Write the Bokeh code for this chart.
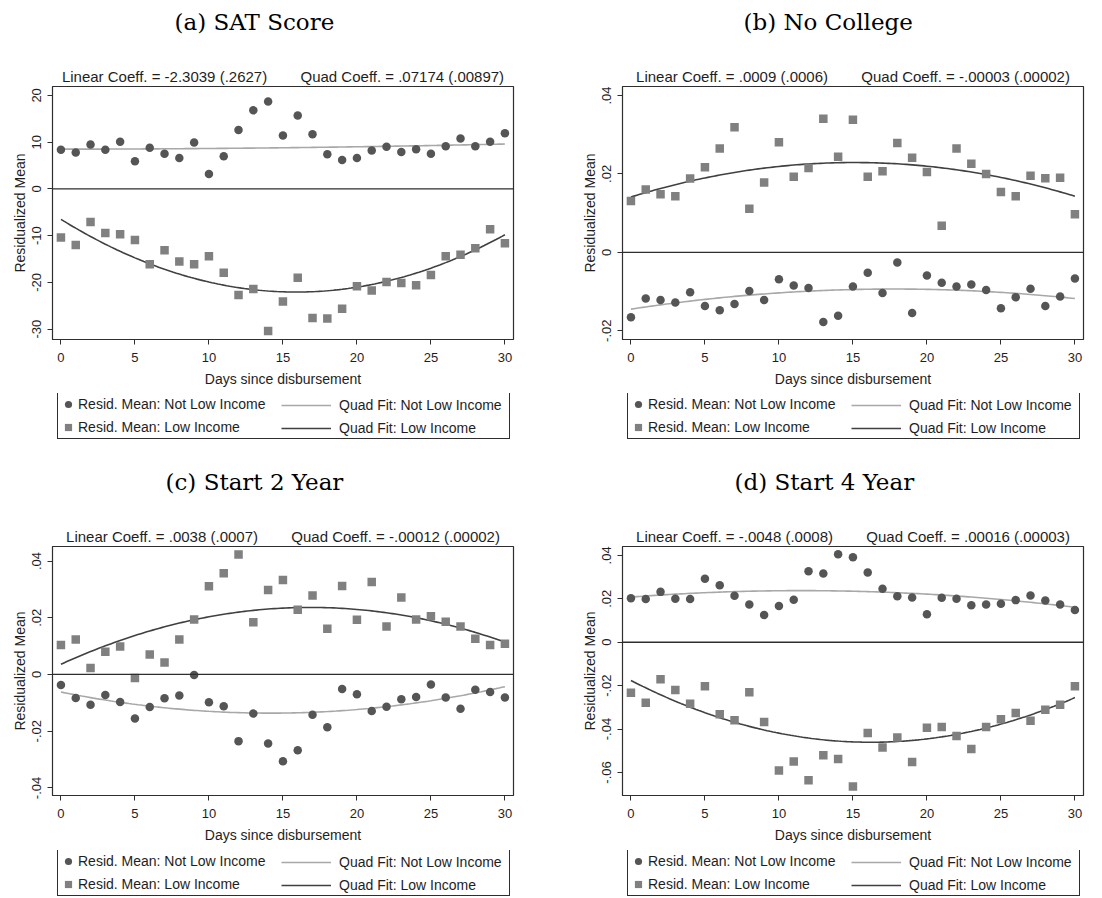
import numpy as np
from bokeh.plotting import figure
from bokeh.models import Span, Title, Legend, LegendItem, Range1d, FixedTicker
from bokeh.layouts import gridplot
from bokeh.embed import file_html
from bokeh.resources import INLINE

days = list(range(31))
fit_days = [0, 15, 30]
x_ticks = [0, 5, 10, 15, 20, 25, 30]

titles = ["(a) SAT Score", "(b) No College", "(c) Start 2 Year", "(d) Start 4 Year"]
coef_linear = ["Linear Coeff. = -2.3039 (.2627)", "Linear Coeff. = .0009 (.0006)",
               "Linear Coeff. = .0038 (.0007)", "Linear Coeff. = -.0048 (.0008)"]
coef_quad = ["Quad Coeff. = .07174 (.00897)", "Quad Coeff. = -.00003 (.00002)",
             "Quad Coeff. = -.00012 (.00002)", "Quad Coeff. = .00016 (.00003)"]
legend_labels = ["Resid. Mean: Not Low Income", "Resid. Mean: Low Income",
                 "Quad Fit: Not Low Income", "Quad Fit: Low Income"]

# (a) SAT Score
a_not_low = [8.4, 7.8, 9.5, 8.4, 10.1, 5.9, 8.8, 7.5, 6.6, 9.9, 3.2, 7.0, 12.6, 16.8, 18.7, 11.4,
             15.7, 11.7, 7.4, 6.2, 6.6, 8.2, 9.0, 7.9, 8.5, 7.5, 9.1, 10.8, 9.1, 10.1, 11.9]
a_low = [-10.4, -12.0, -7.1, -9.4, -9.7, -10.9, -16.1, -13.1, -15.5, -16.1, -14.4, -17.9, -22.7,
         -21.4, -30.4, -24.1, -19.0, -27.6, -27.7, -25.6, -20.8, -21.7, -19.9, -20.1, -20.6,
         -18.4, -14.4, -14.1, -12.7, -8.6, -11.6]
a_fit_not_low = [8.5, 8.8, 9.6]
a_fit_low = [-6.5, -22.0, -9.8]
a_yticks = [-30, -20, -10, 0, 10, 20]
a_ylabels = ["-30", "-20", "-10", "0", "10", "20"]
a_yrange = [-32.2, 21.9]

# (b) No College
b_not_low = [-.0166, -.0118, -.0122, -.0128, -.0102, -.0137, -.0148, -.0132, -.0099, -.0122,
             -.0069, -.0085, -.0091, -.0178, -.0162, -.0087, -.0052, -.0104, -.0026, -.0155,
             -.0059, -.0078, -.0087, -.0082, -.0096, -.0143, -.0115, -.0093, -.0137, -.0113, -.0067]
b_low = [.0131, .0160, .0148, .0143, .0188, .0217, .0265, .0319, .0111, .0178, .0281, .0193,
         .0215, .0341, .0244, .0338, .0193, .0207, .0279, .0241, .0205, .0068, .0265, .0226,
         .0200, .0154, .0143, .0195, .0189, .0190, .0097]
b_fit_not_low = [-.0145, -.0095, -.0118]
b_fit_low = [.0141, .0229, .0143]
b_yticks = [-0.02, 0, 0.02, 0.04]
b_ylabels = ["-.02", "0", ".02", ".04"]
b_yrange = [-0.02225, 0.0423]

# (c) Start 2 Year
c_not_low = [-.0037, -.0083, -.0107, -.0072, -.0097, -.0155, -.0115, -.0084, -.0074, -.0002,
             -.0098, -.0112, -.0235, -.0138, -.0243, -.0306, -.0267, -.0142, -.0186, -.0051,
             -.0070, -.0129, -.0114, -.0087, -.0079, -.0035, -.0081, -.0121, -.0054, -.0062, -.0081]
c_low = [.0104, .0123, .0023, .0080, .0099, -.0012, .0070, .0042, .0123, .0194, .0311, .0357,
         .0423, .0184, .0298, .0333, .0228, .0278, .0161, .0312, .0193, .0326, .0169, .0271,
         .0194, .0205, .0186, .0169, .0126, .0104, .0108]
c_fit_not_low = [-.0062, -.0136, -.0043]
c_fit_low = [.0036, .0234, .0114]
c_yticks = [-0.04, -0.02, 0, 0.02, 0.04]
c_ylabels = ["-.04", "-.02", "0", ".02", ".04"]
c_yrange = [-0.04267, 0.04512]

# (d) Start 4 Year
d_not_low = [.0203, .0199, .0232, .0200, .0199, .0292, .0262, .0214, .0174, .0126, .0167, .0196,
             .0327, .0317, .0405, .0391, .0321, .0246, .0212, .0206, .0129, .0205, .0200, .0170,
             .0174, .0177, .0194, .0215, .0192, .0174, .0149]
d_low = [-.0233, -.0279, -.0170, -.0220, -.0283, -.0203, -.0332, -.0359, -.0230, -.0368, -.0591,
         -.0549, -.0636, -.0521, -.0538, -.0665, -.0418, -.0485, -.0439, -.0552, -.0394, -.0391,
         -.0432, -.0492, -.0391, -.0355, -.0326, -.0362, -.0311, -.0288, -.0203]
d_fit_not_low = [.0208, .0235, .0161]
d_fit_low = [-.0176, -.0459, -.0255]
d_yticks = [-0.06, -0.04, -0.02, 0, 0.02, 0.04]
d_ylabels = ["-.06", "-.04", "-.02", "0", ".02", ".04"]
d_yrange = [-0.0706, 0.0441]

FONT = "Liberation Sans"
TXT = "#1e1e1e"
FRAME = "#2e2e2e"
C_NL = "#555555"
C_LO = "#808080"
L_NL = "#a8a8a8"
L_LO = "#404040"

FW = 461
LEFT = 52
TOP = 86
TITLE_LEFT = [122, 121, 113, 112]


def quad_curve(vals):
    coef = np.polyfit(fit_days, vals, 2)
    xs = np.linspace(0, 30, 151)
    return xs, np.polyval(coef, xs)


def panel(i, nl, lo, fnl, flo, yt, yl, yr, fh, fig_h, fig_w):
    p = figure(title=None, frame_width=FW, frame_height=fh, min_border_left=LEFT,
               min_border_top=TOP, min_border_right=fig_w - LEFT - FW,
               min_border_bottom=fig_h - TOP - fh,
               x_range=Range1d(-0.57, 30.58), y_range=Range1d(yr[0], yr[1]),
               toolbar_location=None, output_backend="svg", background_fill_color="white",
               border_fill_color="white", outline_line_color=FRAME, outline_line_width=1.2)
    p.grid.visible = False
    p.xaxis.ticker = FixedTicker(ticks=x_ticks)
    p.yaxis.ticker = FixedTicker(ticks=yt)
    p.yaxis.major_label_overrides = {t: l for t, l in zip(yt, yl)}
    p.yaxis.major_label_orientation = "vertical"
    for ax in (p.xaxis[0], p.yaxis[0]):
        ax.axis_line_color = FRAME
        ax.major_tick_line_color = FRAME
        ax.minor_tick_line_color = None
        ax.major_tick_out = 5
        ax.major_tick_in = 0
        ax.major_label_text_font = FONT
        ax.major_label_text_font_size = "13px"
        ax.major_label_text_color = TXT
        ax.axis_label_text_font = FONT
        ax.axis_label_text_font_size = "14px"
        ax.axis_label_text_font_style = "normal"
        ax.axis_label_text_color = TXT
    p.xaxis.major_label_standoff = 8
    p.yaxis.major_label_standoff = 6
    p.xaxis.axis_label = "Days since disbursement"
    p.xaxis.axis_label_standoff = 6
    p.yaxis.axis_label = "Residualized Mean"
    p.yaxis.axis_label_standoff = 2

    p.add_layout(Span(location=0, dimension="width", line_color=FRAME, line_width=1.3))

    xs, ynl = quad_curve(fnl)
    xs2, ylo = quad_curve(flo)
    p.line(xs, ynl, line_color=L_NL, line_width=1.6)
    p.line(xs2, ylo, line_color=L_LO, line_width=1.6)
    p.scatter(days, nl, marker="circle", size=8.5, fill_color=C_NL, line_color=None)
    p.scatter(days, lo, marker="square", size=8.5, fill_color=C_LO, line_color=None)

    # coefficient line (closest to the frame), a blank spacer, then the panel title
    p.add_layout(Title(text=coef_linear[i] + "\u00a0" * 8 + coef_quad[i], align="center",
                       text_font=FONT, text_font_size="15px", text_font_style="normal",
                       text_color=TXT, standoff=4), "above")
    p.add_layout(Title(text="\u00a0", text_font=FONT, text_font_size="15px",
                       standoff=6), "above")
    p.add_layout(Title(text=titles[i], align="left", offset=TITLE_LEFT[i],
                       text_font="DejaVu Serif", text_font_size="23px",
                       text_font_style="normal", text_color="black", standoff=8), "above")
    return p


def legend_fig(fig_w, fig_h):
    lh = 47
    q = figure(title=None, frame_width=FW, frame_height=lh, min_border_left=LEFT,
               min_border_right=fig_w - LEFT - FW, min_border_top=1,
               min_border_bottom=fig_h - 1 - lh, x_axis_type=None, y_axis_type=None,
               x_range=Range1d(0, 1), y_range=Range1d(0, 1), toolbar_location=None,
               output_backend="svg", outline_line_color=None,
               background_fill_color="white", border_fill_color="white")
    q.grid.visible = False
    # off-range sample marks: only their legend glyphs are visible
    r1 = q.scatter(x=[-5], y=[-5], marker="circle", size=8.5, fill_color=C_NL, line_color=None)
    r2 = q.scatter(x=[-5], y=[-5], marker="square", size=8.5, fill_color=C_LO, line_color=None)
    r3 = q.line(x=[-5, -4], y=[-5, -5], line_color=L_NL, line_width=1.6)
    r4 = q.line(x=[-5, -4], y=[-5, -5], line_color=L_LO, line_width=1.6)
    common = dict(padding=1, spacing=3, margin=0, label_height=20, glyph_height=20,
                  label_text_font=FONT, label_text_font_size="14px", label_text_color=TXT,
                  orientation="vertical")
    leg1 = Legend(items=[LegendItem(label=legend_labels[0], renderers=[r1]),
                         LegendItem(label=legend_labels[1], renderers=[r2])],
                  location=(5, 1), glyph_width=18, label_standoff=1, label_width=430,
                  border_line_color=FRAME, border_line_width=1.2, border_line_alpha=1,
                  background_fill_color="white", background_fill_alpha=1, **common)
    leg2 = Legend(items=[LegendItem(label=legend_labels[2], renderers=[r3]),
                         LegendItem(label=legend_labels[3], renderers=[r4])],
                  location=(228, 1), glyph_width=50, label_standoff=8,
                  border_line_alpha=0, background_fill_alpha=0, **common)
    q.add_layout(leg1, "center")
    q.add_layout(leg2, "center")
    return q


W1, W2 = 570, 532
pa = panel(0, a_not_low, a_low, a_fit_not_low, a_fit_low, a_yticks, a_ylabels, a_yrange, 253, 392, W1)
pb = panel(1, b_not_low, b_low, b_fit_not_low, b_fit_low, b_yticks, b_ylabels, b_yrange, 253, 392, W2)
pc = panel(2, c_not_low, c_low, c_fit_not_low, c_fit_low, c_yticks, c_ylabels, c_yrange, 249, 389, W1)
pd = panel(3, d_not_low, d_low, d_fit_not_low, d_fit_low, d_yticks, d_ylabels, d_yrange, 249, 389, W2)
la, lb = legend_fig(W1, 68), legend_fig(W2, 68)
lc, ld = legend_fig(W1, 48), legend_fig(W2, 48)

grid = gridplot([[pa, pb], [la, lb], [pc, pd], [lc, ld]], toolbar_location=None)
open("out.html", "w").write(file_html(grid, INLINE))
